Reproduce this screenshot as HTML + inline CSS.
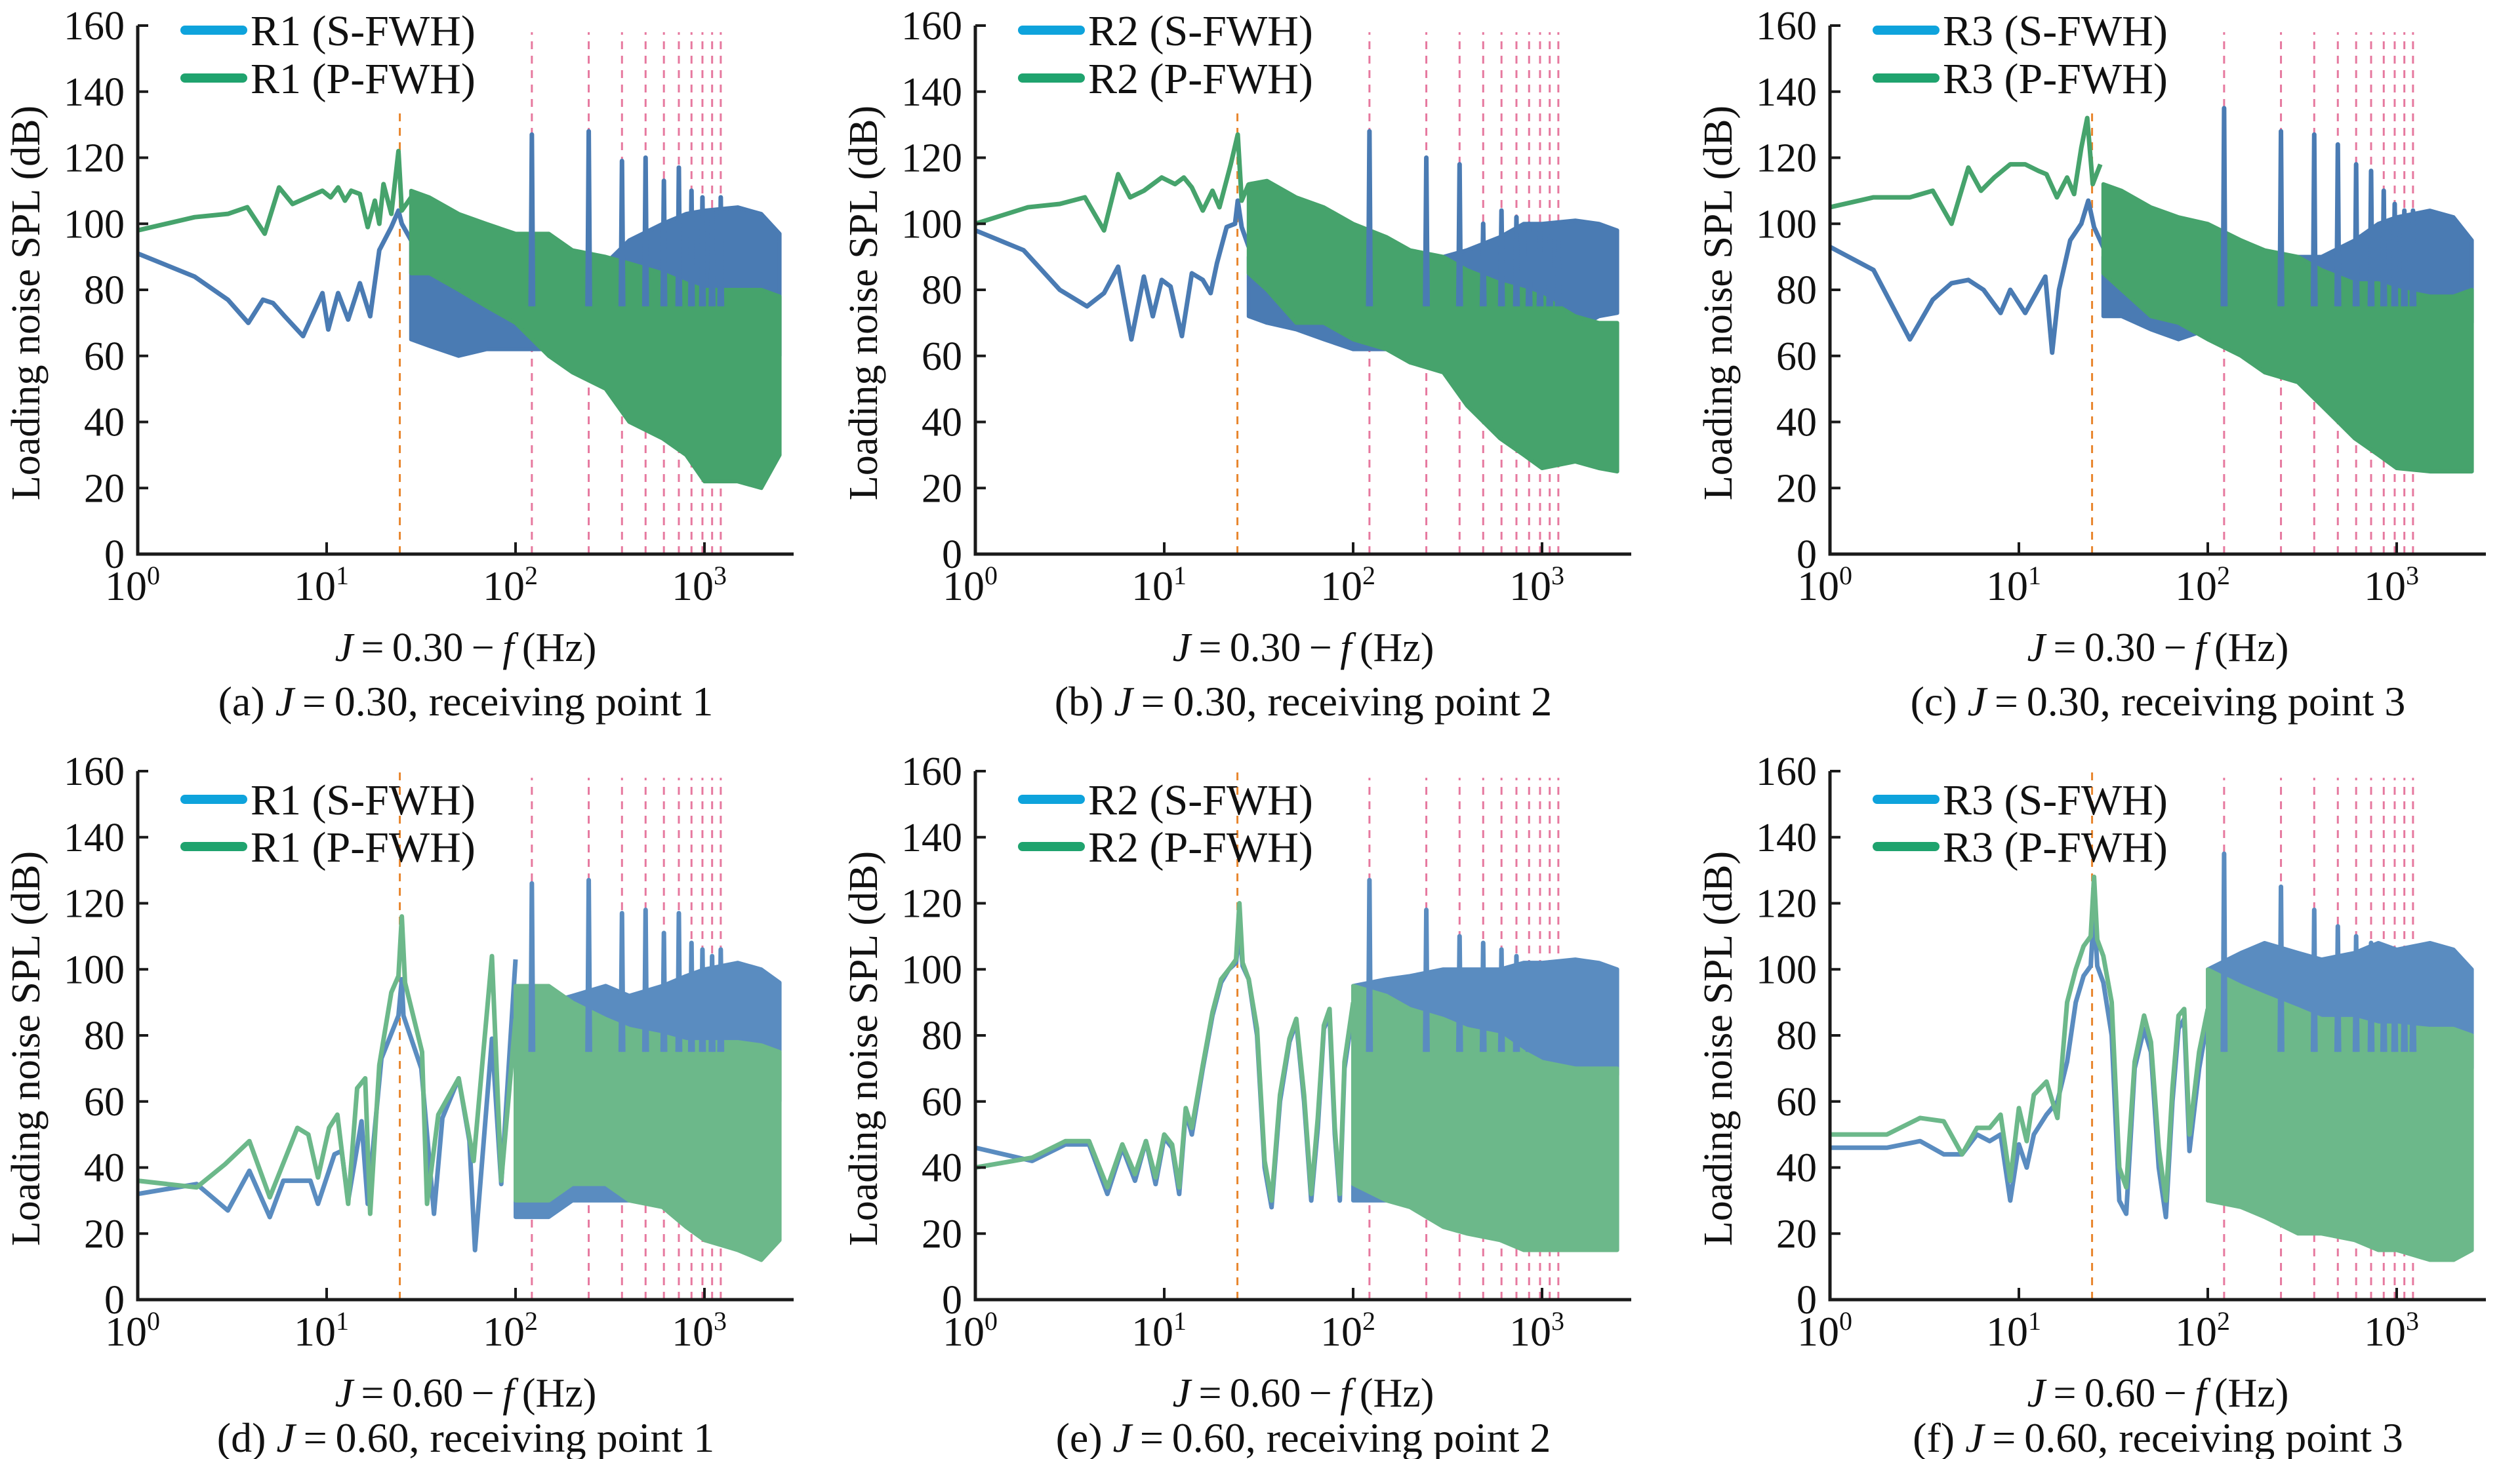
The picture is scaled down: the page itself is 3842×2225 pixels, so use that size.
<!DOCTYPE html>
<html><head><meta charset="utf-8">
<style>
html,body{margin:0;padding:0;background:#fff;}
svg{display:block;}
svg text{font-family:"Liberation Serif","DejaVu Serif",serif;fill:#111;}
</style></head>
<body>
<svg id="fig" width="3842" height="2225" viewBox="0 0 3842 2225" font-family="Liberation Serif, serif" xmlns="http://www.w3.org/2000/svg"></svg>
<script>
// ---------- shared data ----------
const yTicks = [0,20,40,60,80,100,120,140,160];
const xDecades = [0,1,2,3];
const harmonicFreqs = [122,244,366,488,610,732,854,976,1098,1220];
const bladeFreq = 24.4;
const band1Freq = [28,35,50,70,100,150,200,300,400,600,800,1000,1500,2000,2500];
const band2Freq = [100,150,200,300,400,600,800,1000,1500,2000,2500];

// ---------- panel (a) ----------
const aSF = [1,2,3,3.85,4.6,5.2,6,7.5,9.5,10.2,11.5,13,15,17,19,22,24,25,28];
const aSV = [91,84,77,70,77,76,72,66,79,68,79,71,82,72,92,99,104,100,95];
const aPF = [1,2,3,3.8,4.7,5.6,6.6,9.5,10.5,11.5,12.5,13.5,15,16.5,18,19,20,22,24,25,28];
const aPV = [98,102,103,105,97,111,106,110,108,111,107,110,109,99,107,100,112,103,122,104,108];
const aSUp = [95,90,88,86,85,85,84,88,95,100,103,104,105,103,97];
const aSLo = [65,63,60,62,62,62,65,60,44,45,42,40,40,45,60];
const aPUp = [110,108,103,100,97,97,92,90,88,85,82,80,80,80,78];
const aPLo = [85,85,80,75,70,60,55,50,40,35,30,22,22,20,30];
const aPeaks = [127,128,119,120,113,117,110,108,104,108];

// ---------- panel (b) ----------
const bSF = [1,1.8,2.8,3.9,4.8,5.7,6.7,7.8,8.7,9.7,10.8,12.4,14,16,17.6,19,21.4,23.7,24.5,25.7,28];
const bSV = [98,92,80,75,79,87,65,84,72,83,81,66,85,83,79,88,99,100,107,99,93];
const bPF = [1,1.9,2.8,3.8,4.8,5.7,6.6,7.8,9.7,11.4,12.7,14,16,18,19.6,22.5,24.5,25.7,28];
const bPV = [100,105,106,108,98,115,108,110,114,112,114,111,104,110,105,118,127,107,112];
const bSUp = [90,90,88,87,85,90,88,90,92,96,100,100,101,100,98];
const bSLo = [72,70,68,65,62,62,62,60,50,52,55,60,68,72,73];
const bPUp = [112,113,108,105,100,96,92,90,86,82,80,78,72,70,70];
const bPLo = [85,80,70,70,65,62,58,55,45,35,30,26,28,26,25];
const bPeaks = [128,120,118,100,104,102,100,98,96,95];

// ---------- panel (c) ----------
const cSF = [1,1.7,2.65,3.5,4.4,5.4,6.5,8,9,10.8,13.8,15,16.3,18.7,21.4,23.3,25,29.5];
const cSV = [93,86,65,77,82,83,80,73,80,73,84,61,80,95,100,107,99,90];
const cPF = [1,1.7,2.65,3.5,4.4,5.4,6.3,7.4,9,10.8,12.7,14,15.9,18,19.6,21.4,23,24.6,27];
const cPV = [105,108,108,110,100,117,110,114,118,118,116,115,108,114,109,123,132,112,118];
const cSUp = [90,92,88,88,86,95,88,90,90,95,100,102,104,102,95];
const cSLo = [72,72,68,65,68,65,65,62,60,62,65,68,68,70,70];
const cPUp = [112,110,105,102,100,95,92,90,86,82,82,80,78,78,80];
const cPLo = [85,80,72,70,65,60,55,52,45,35,30,26,25,25,25];
const cPeaks = [135,128,127,124,118,116,110,106,104,104];

// ---------- panel (d) ----------
const dSF = [1,2.05,3,3.9,5,5.9,8.2,9,11,12,13,15.3,16.5,19.5,24,25,25.5,31.7,37,41,50,57,61,75,84,100];
const dSV = [32,35,27,39,25,36,36,29,44,45,30,54,29,73,86,97,86,70,26,55,67,48,15,79,35,103];
const dPF = [1,2.05,2.9,3.9,5,7,8,9,10.3,11.4,13,14.5,16,17,19,22,24,25,26,32,34,39,50,60,75,84,100];
const dPV = [36,34,41,48,31,52,50,37,52,56,29,64,67,26,71,93,98,116,96,75,29,56,67,42,104,36,85];
const dSUp = [85,90,92,95,92,95,98,100,102,100,96];
const dSLo = [25,25,30,30,30,35,40,45,50,55,60];
const dPUp = [95,95,90,85,82,80,78,78,78,77,75];
const dPLo = [30,30,35,35,30,28,22,18,15,12,18];
const dPeaks = [126,127,117,118,111,117,108,106,104,106];

// ---------- panel (e) ----------
const eSF = [1,2,3,4,5,6,7,8,9,10,11,12,13,14,16,18,20,22,24,25,26,28,31,34,37,41,46,50,55,60,65,70,75,80,85,90,100];
const eSV = [46,42,47,47,32,46,36,48,35,49,46,32,57,50,70,86,96,100,102,112,101,97,80,40,28,60,78,84,60,30,52,82,86,50,30,70,88];
const ePF = [1,2,3,4,5,6,7,8,9,10,11,12,13,14,16,18,20,22,24,25,26,28,31,34,37,41,46,50,55,60,65,70,75,80,85,90,100];
const ePV = [40,43,48,48,34,47,38,48,37,50,47,34,58,52,71,87,97,100,103,120,102,97,82,42,30,62,79,85,62,32,55,83,88,52,32,72,90];
const eSUp = [95,97,98,100,100,100,102,102,103,102,100];
const eSLo = [30,30,32,35,38,42,48,55,62,66,68];
const ePUp = [95,92,88,85,82,80,75,72,70,70,70];
const ePLo = [35,30,28,22,20,18,15,15,15,15,15];
const ePeaks = [127,118,110,108,106,104,102,100,100,98];

// ---------- panel (f) ----------
const fSF = [1,2,3,4,5,6,7,8,9,10,11,12,14,16,18,20,22,24,25,26,28,31,34,37,41,46,50,55,60,65,70,75,80,90,100];
const fSV = [46,46,48,44,44,50,48,50,30,47,40,50,56,60,72,90,98,101,118,101,96,80,30,26,70,82,75,40,25,60,82,85,45,70,85];
const fPF = [1,2,3,4,5,6,7,8,9,10,11,12,14,16,18,20,22,24,25,26,28,31,34,37,41,46,50,55,60,65,70,75,80,90,100];
const fPV = [50,50,55,54,44,52,52,56,36,58,48,62,66,55,90,100,107,110,128,109,104,90,40,34,72,86,78,46,30,64,86,88,50,75,88];
const fSUp = [100,105,108,105,103,105,108,106,108,106,100];
const fSLo = [30,30,35,38,40,45,50,58,65,68,70];
const fPUp = [100,95,92,88,85,85,83,83,82,82,80];
const fPLo = [30,28,25,20,20,18,15,15,12,12,15];
const fPeaks = [135,125,118,113,110,108,106,104,102,102];

const NS = "http://www.w3.org/2000/svg";
const svg = document.getElementById('fig');
function mk(tag, attrs, parent){
  const e = document.createElementNS(NS, tag);
  for (const k in attrs) e.setAttribute(k, attrs[k]);
  (parent||svg).appendChild(e);
  return e;
}
const FONT = '"Liberation Serif", serif';

const panels = [
 {id:'a',left:210,y0:845,y160:39,legY:[46,119],capOff:246,r:'R1',J:'0.30',pt:'1',sF:aSF,sV:aSV,pF:aPF,pV:aPV,bF:band1Freq,sU:aSUp,sL:aSLo,pU:aPUp,pL:aPLo,pk:aPeaks,green:'#46a36c',blue:'#4a7bb3',orTop:135},
 {id:'b',left:1487,y0:845,y160:39,legY:[46,119],capOff:246,r:'R2',J:'0.30',pt:'2',sF:bSF,sV:bSV,pF:bPF,pV:bPV,bF:band1Freq,sU:bSUp,sL:bSLo,pU:bPUp,pL:bPLo,pk:bPeaks,green:'#46a36c',blue:'#4a7bb3',orTop:135},
 {id:'c',left:2790,y0:845,y160:39,legY:[46,119],capOff:246,r:'R3',J:'0.30',pt:'3',sF:cSF,sV:cSV,pF:cPF,pV:cPV,bF:band1Freq,sU:cSUp,sL:cSLo,pU:cPUp,pL:cPLo,pk:cPeaks,green:'#46a36c',blue:'#4a7bb3',orTop:135},
 {id:'d',left:210,y0:1982,y160:1176,legY:[1219,1291],capOff:232,r:'R1',J:'0.60',pt:'1',sF:dSF,sV:dSV,pF:dPF,pV:dPV,bF:band2Freq,sU:dSUp,sL:dSLo,pU:dPUp,pL:dPLo,pk:dPeaks,green:'#6cb88a',blue:'#5a8cc0',orTop:160},
 {id:'e',left:1487,y0:1982,y160:1176,legY:[1219,1291],capOff:232,r:'R2',J:'0.60',pt:'2',sF:eSF,sV:eSV,pF:ePF,pV:ePV,bF:band2Freq,sU:eSUp,sL:eSLo,pU:ePUp,pL:ePLo,pk:ePeaks,green:'#6cb88a',blue:'#5a8cc0',orTop:160},
 {id:'f',left:2790,y0:1982,y160:1176,legY:[1219,1291],capOff:232,r:'R3',J:'0.60',pt:'3',sF:fSF,sV:fSV,pF:fPF,pV:fPV,bF:band2Freq,sU:fSUp,sL:fSLo,pU:fPUp,pL:fPLo,pk:fPeaks,green:'#6cb88a',blue:'#5a8cc0',orTop:160}
];

const DEC = 288, AXW = 1000;

panels.forEach(p=>{
  const g = mk('g',{'font-family':FONT});
  
  
  const X = f => p.left + Math.log10(f)*DEC;
  const Y = v => p.y0 - v*(p.y0-p.y160)/160;
  const right = p.left + AXW;

  const ol = mk('line',{x1:X(bladeFreq),x2:X(bladeFreq),y1:p.y0,y2:Y(p.orTop),stroke:'#e8862e','stroke-width':3,'stroke-dasharray':'12 10'},g);
  
  
  harmonicFreqs.forEach(f=>{
    const l = mk('line',{x1:X(f),x2:X(f),y1:p.y0,y2:Y(158),stroke:'#e2628f','stroke-width':3,'stroke-dasharray':'12 10',opacity:0.85},g);
    
    
  });

  const bandPts = (F,U,L)=> F.map((f,i)=>X(f)+','+Y(U[i])).concat(F.slice().reverse().map((f,i)=>X(f)+','+Y(L[L.length-1-i]))).join(' ');
  const sb = mk('polygon',{points:bandPts(p.bF,p.sU,p.sL),fill:p.blue,stroke:p.blue,'stroke-width':6,'stroke-linejoin':'round'},g);
  
  
  const sl = mk('polyline',{points:p.sF.map((f,i)=>X(f)+','+Y(p.sV[i])).join(' '),fill:'none',stroke:p.blue,'stroke-width':7,'stroke-linejoin':'round'},g);
  
  

  const pb = mk('polygon',{points:bandPts(p.bF,p.pU,p.pL),fill:p.green,stroke:p.green,'stroke-width':6,'stroke-linejoin':'round'},g);
  
  
  const pl = mk('polyline',{points:p.pF.map((f,i)=>X(f)+','+Y(p.pV[i])).join(' '),fill:'none',stroke:p.green,'stroke-width':7,'stroke-linejoin':'round'},g);
  
  

  harmonicFreqs.forEach((f,i)=>{
    const k = mk('polyline',{points:[X(f*0.985)+','+Y(75),X(f)+','+Y(p.pk[i]),X(f*1.015)+','+Y(75)].join(' '),fill:'none',stroke:p.blue,'stroke-width':7,'stroke-linejoin':'round'},g);
    
    
  });

  const ax = mk('path',{d:`M${p.left},${p.y160} V${p.y0} H${right}`,fill:'none',stroke:'#1a1a1a','stroke-width':5},g);
  
  
  yTicks.forEach(v=>{
    mk('line',{x1:p.left,x2:p.left+16,y1:Y(v),y2:Y(v),stroke:'#1a1a1a','stroke-width':4},g);
    const t = mk('text',{x:p.left-20,y:Y(v)+21,'text-anchor':'end','font-size':62,'font-family':FONT},g);
    t.textContent = v;
    
    
  });
  xDecades.forEach(d=>{
    const x = p.left + d*DEC;
    if (d>0) mk('line',{x1:x,x2:x,y1:p.y0,y2:p.y0-18,stroke:'#1a1a1a','stroke-width':4},g);
    const t = mk('text',{x:x-8,y:p.y0+70,'text-anchor':'middle','font-size':64,'font-family':FONT},g);
    t.textContent = '10';
    const s = mk('tspan',{dy:-24,'font-size':40},t);
    s.textContent = d;
    
    
  });

  const cy = (p.y0+p.y160)/2;
  const yl = mk('text',{x:0,y:0,'text-anchor':'middle','font-size':62,'font-family':FONT,transform:`translate(${p.left-150},${cy+20}) rotate(-90)`},g);
  yl.textContent = 'Loading noise SPL (dB)';
  
  

  const cx = p.left + AXW/2;
  const xl = mk('text',{x:cx,y:p.y0+163,'text-anchor':'middle','font-size':62,'font-family':FONT},g);
  xl.innerHTML = '<tspan font-style="italic">J</tspan>\u2009=\u20090.'+p.J.slice(2)+'\u2009−\u2009<tspan font-style="italic">f</tspan>\u2009(Hz)';
  
  

  const cp = mk('text',{x:cx,y:p.y0+p.capOff,'text-anchor':'middle','font-size':64,'font-family':FONT},g);
  cp.innerHTML = '('+p.id+') <tspan font-style="italic">J</tspan>\u2009=\u2009'+p.J+', receiving point '+p.pt;
  
  

  [['#0ea3dc',p.r+' (S-FWH)'],['#1fa36e',p.r+' (P-FWH)']].forEach((e,i)=>{
    const ly = p.legY[i];
    const ll = mk('line',{x1:p.left+72,x2:p.left+160,y1:ly,y2:ly,stroke:e[0],'stroke-width':14,'stroke-linecap':'round'},g);
    
    
    const lt = mk('text',{x:p.left+172,y:ly+23,'font-size':66,'font-family':FONT},g);
    lt.textContent = e[1];
    
    
  });
});
</script>
</body></html>
